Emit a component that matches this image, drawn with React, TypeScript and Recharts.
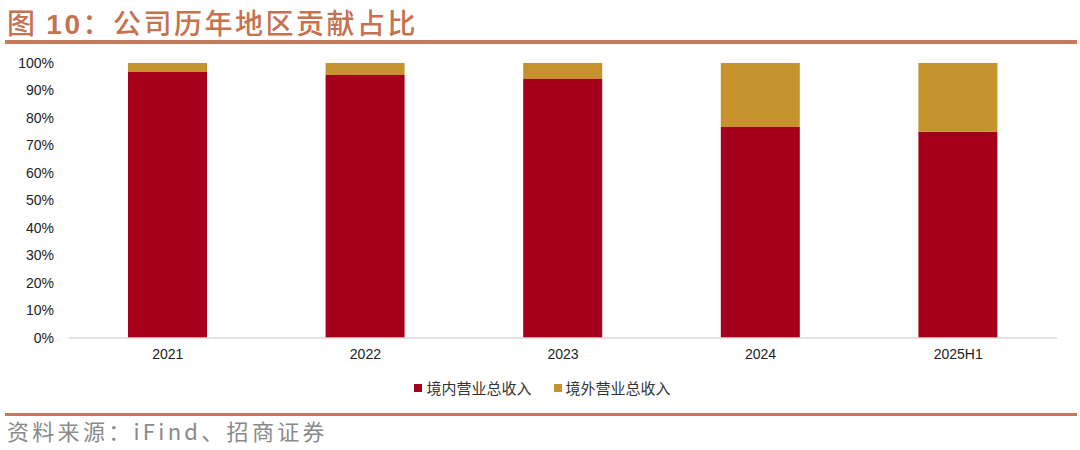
import React from "react";
import { BarChart, Bar, XAxis, YAxis } from "recharts";

const categories = ["2021", "2022", "2023", "2024", "2025H1"];
const domesticShare = [96.7, 95.6, 94.2, 76.7, 75.0];
const overseasShare = [3.3, 4.4, 5.8, 23.3, 25.0];
const yTicks = [0, 10, 20, 30, 40, 50, 60, 70, 80, 90, 100];
const seriesNames = ["境内营业总收入", "境外营业总收入"];
const seriesColors = ["#a5001b", "#c6922b"];
const titlePrefix = "图 ";
const titleNumber = "10";
const titleRest = "：公司历年地区贡献占比";
const sourceText = "资料来源：iFind、招商证券";

const data = categories.map((c, i) => ({
  name: c,
  domestic: domesticShare[i],
  overseas: overseasShare[i],
}));

const cjk = '"Noto Sans CJK SC", "Noto Sans", sans-serif';

export default function App() {
  return (
    <div
      style={{
        position: "absolute",
        left: 0,
        top: 0,
        width: 1080,
        height: 450,
        background: "#fff",
        overflow: "hidden",
      }}
    >
      <div
        style={{
          position: "absolute",
          left: 7,
          top: 2,
          fontFamily: cjk,
          fontWeight: 500,
          fontSize: 28,
          letterSpacing: 2.5,
          color: "#c4724f",
          lineHeight: "40px",
          whiteSpace: "nowrap",
        }}
      >
        {titlePrefix}
        <span style={{ fontWeight: 700, fontFamily: '"Liberation Sans", Arial, sans-serif' }}>
          {titleNumber}
        </span>
        {titleRest}
      </div>
      <div
        style={{
          position: "absolute",
          left: 5,
          top: 40,
          width: 1072,
          height: 4,
          background: "#c47a5a",
        }}
      />
      <div style={{ position: "absolute", left: 0, top: 0 }}>
        <BarChart
          width={1080}
          height={400}
          data={data}
          margin={{ top: 63, right: 23, left: 9, bottom: 32 }}
          barCategoryGap="30%"
        >
          <XAxis
            dataKey="name"
            height={30}
            tickLine={false}
            tickSize={0}
            tickMargin={11}
            axisLine={{ stroke: "#d9d9d9", strokeWidth: 1.5 }}
            tick={{ fill: "#222", fontSize: 14, fontFamily: '"Liberation Sans", Arial, sans-serif' }}
          />
          <YAxis
            width={60}
            domain={[0, 100]}
            ticks={yTicks}
            interval={0}
            axisLine={false}
            tickLine={false}
            tickSize={0}
            tickMargin={15}
            tickFormatter={(v: number) => `${v}%`}
            tick={{ fill: "#222", fontSize: 14, fontFamily: '"Liberation Sans", Arial, sans-serif' }}
          />
          <Bar
            dataKey="domestic"
            name={seriesNames[0]}
            stackId="a"
            fill={seriesColors[0]}
            barSize={79}
            isAnimationActive={false}
          />
          <Bar
            dataKey="overseas"
            name={seriesNames[1]}
            stackId="a"
            fill={seriesColors[1]}
            barSize={79}
            isAnimationActive={false}
          />
        </BarChart>
      </div>
      <div
        style={{
          position: "absolute",
          left: 0,
          width: 1085,
          top: 378,
          display: "flex",
          justifyContent: "center",
          fontFamily: cjk,
          fontSize: 15,
          color: "#333",
          lineHeight: "20px",
        }}
      >
        {seriesNames.map((n, i) => (
          <div
            key={n}
            style={{
              display: "flex",
              alignItems: "center",
              marginLeft: i === 0 ? 0 : 22,
            }}
          >
            <span
              style={{
                display: "inline-block",
                width: 8,
                height: 8,
                background: seriesColors[i],
                marginRight: 4,
              }}
            />
            <span>{n}</span>
          </div>
        ))}
      </div>
      <div
        style={{
          position: "absolute",
          left: 5,
          top: 413,
          width: 1072,
          height: 3,
          background: "#c47a5a",
        }}
      />
      <div
        style={{
          position: "absolute",
          left: 7,
          top: 415,
          fontFamily: cjk,
          fontSize: 22,
          letterSpacing: 3.3,
          color: "#8a8a8a",
          lineHeight: "30px",
          whiteSpace: "nowrap",
        }}
      >
        {sourceText}
      </div>
    </div>
  );
}
